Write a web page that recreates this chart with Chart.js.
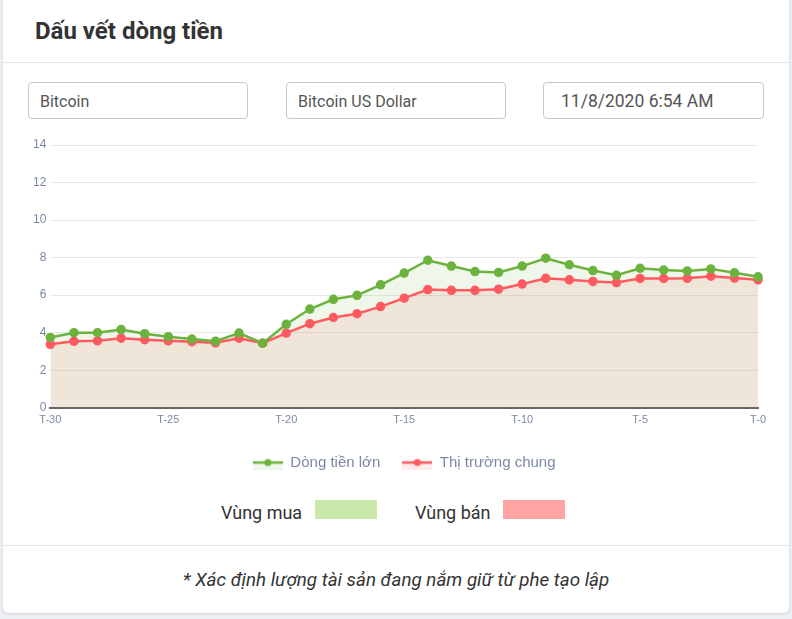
<!DOCTYPE html>
<html>
<head>
<meta charset="utf-8">
<script src="https://cdn.jsdelivr.net/npm/chart.js@4/dist/chart.umd.min.js"></script>
<style>
  html, body { margin: 0; padding: 0; }
  body { width: 792px; height: 619px; background: #eceff3; position: relative; overflow: hidden; font-family: Roboto, "Liberation Sans", sans-serif; }
  .card { position: absolute; left: 3px; top: -6px; width: 786px; height: 619px; background: #fff; border-radius: 6px; box-shadow: 0 1px 3px rgba(0,0,0,0.12); }
  .title { position: absolute; left: 35px; top: 18px; font-size: 24px; font-weight: 700; color: #333; line-height: 26px; }
  .hr { position: absolute; left: 3px; width: 786px; height: 1px; background: #e2e5e9; }
  .inp { position: absolute; top: 82px; height: 37px; border: 1px solid #c8c8c8; border-radius: 4px; box-sizing: border-box; color: #555; font-size: 16px; line-height: 37px; padding-left: 11px; background: #fff; }
  #wrap { position: absolute; left: 20px; top: 130px; width: 752px; height: 350px; }
  .zone { position: absolute; top: 502px; font-size: 18px; color: #333; line-height: 22px; }
  .box { position: absolute; top: 500px; height: 19px; width: 62px; }
  .foot { position: absolute; left: 0; width: 792px; top: 569px; text-align: center; font-style: italic; font-size: 18.8px; color: #333; line-height: 22px; }
</style>
</head>
<body>
<div class="card"></div>
<div class="title">Dấu vết dòng tiền</div>
<div class="hr" style="top:62px"></div>
<div class="inp" style="left:28px;width:220px;">Bitcoin</div>
<div class="inp" style="left:286px;width:220px;">Bitcoin US Dollar</div>
<div class="inp" style="left:543px;width:221px;font-size:17.5px;padding-left:17px;">11/8/2020 6:54 AM</div>
<div id="wrap"><canvas id="c" width="752" height="350"></canvas></div>
<div class="zone" style="left:221px">Vùng mua</div>
<div class="box" style="left:315px;background:#c9e8a9"></div>
<div class="zone" style="left:415px">Vùng bán</div>
<div class="box" style="left:503px;background:#ffa3a3"></div>
<div class="hr" style="top:545px"></div>
<div class="foot">* Xác định lượng tài sản đang nắm giữ từ phe tạo lập</div>
<script>
const categories = ["T-30","T-29","T-28","T-27","T-26","T-25","T-24","T-23","T-22","T-21","T-20","T-19","T-18","T-17","T-16","T-15","T-14","T-13","T-12","T-11","T-10","T-9","T-8","T-7","T-6","T-5","T-4","T-3","T-2","T-1","T-0"];
const bigMoney = [3.75,4.0,4.0,4.17,3.95,3.79,3.66,3.55,3.98,3.44,4.45,5.26,5.78,5.99,6.55,7.18,7.86,7.55,7.26,7.21,7.55,7.97,7.62,7.31,7.06,7.43,7.34,7.29,7.4,7.19,6.98];
const market = [3.38,3.54,3.57,3.71,3.63,3.57,3.52,3.46,3.71,3.44,3.98,4.48,4.81,5.01,5.39,5.84,6.3,6.26,6.26,6.32,6.59,6.9,6.82,6.73,6.67,6.89,6.89,6.9,7.01,6.91,6.82];
const seriesNames = ["Dòng tiền lớn", "Thị trường chung"];
const yTicks = [0,2,4,6,8,10,12,14];

const green = '#6cb33e', greenFill = 'rgba(108,179,62,0.11)';
const red = '#ff5a60', redFill = 'rgba(255,90,96,0.12)';

function legendIcon(line, fill) {
  const cv = document.createElement('canvas');
  cv.width = 30; cv.height = 14;
  const g = cv.getContext('2d');
  g.fillStyle = fill; g.fillRect(0, 7, 30, 7);
  g.strokeStyle = line; g.lineWidth = 2.5;
  g.beginPath(); g.moveTo(0, 7); g.lineTo(30, 7); g.stroke();
  g.fillStyle = line; g.beginPath(); g.arc(15, 7, 3.5, 0, Math.PI * 2); g.fill();
  return cv;
}
const icons = [legendIcon(green, greenFill), legendIcon(red, redFill)];

const tickColor = '#7b88a6';
new Chart(document.getElementById('c'), {
  type: 'line',
  data: {
    labels: categories,
    datasets: [
      { label: seriesNames[0], data: bigMoney, borderColor: green, backgroundColor: greenFill, pointBackgroundColor: green, pointBorderColor: green, pointRadius: 3.5, borderWidth: 2.5, fill: 'origin', tension: 0 },
      { label: seriesNames[1], data: market, borderColor: red, backgroundColor: redFill, pointBackgroundColor: red, pointBorderColor: red, pointRadius: 3.5, borderWidth: 2.5, fill: 'origin', tension: 0 }
    ]
  },
  options: {
    responsive: false,
    animation: false,
    devicePixelRatio: 1,
    layout: { padding: { left: 9, right: 7, top: 15, bottom: 0 } },
    scales: {
      y: {
        min: 0, max: 14,
        afterBuildTicks: (s) => { s.ticks = yTicks.map(v => ({ value: v })); },
        ticks: { color: tickColor, font: { size: 12, family: "'Liberation Sans', Arial, sans-serif" }, padding: 4 },
        grid: { color: '#e9e9e9', drawTicks: false, lineWidth: 1 },
        border: { display: false }
      },
      x: {
        grid: { display: false, drawTicks: false },
        border: { color: '#666', width: 2 },
        ticks: { color: tickColor, autoSkip: false, maxRotation: 0, padding: 6, font: { size: 11, family: "'Liberation Sans', Arial, sans-serif" },
          callback: (v, i) => (i % 5 === 0 ? categories[i] : '') }
      }
    },
    plugins: {
      filler: { drawTime: 'beforeDatasetsDraw' },
      tooltip: { enabled: false },
      legend: {
        position: 'bottom',
        fullSize: false,
        labels: {
          usePointStyle: true, pointStyleWidth: 30, padding: 22, color: tickColor,
          font: { size: 15, family: "'Liberation Sans', Arial, sans-serif" },
          generateLabels: (chart) => Chart.defaults.plugins.legend.labels.generateLabels(chart).map((l, i) => Object.assign(l, { pointStyle: icons[i] }))
        }
      }
    }
  }
});
</script>
</body>
</html>
